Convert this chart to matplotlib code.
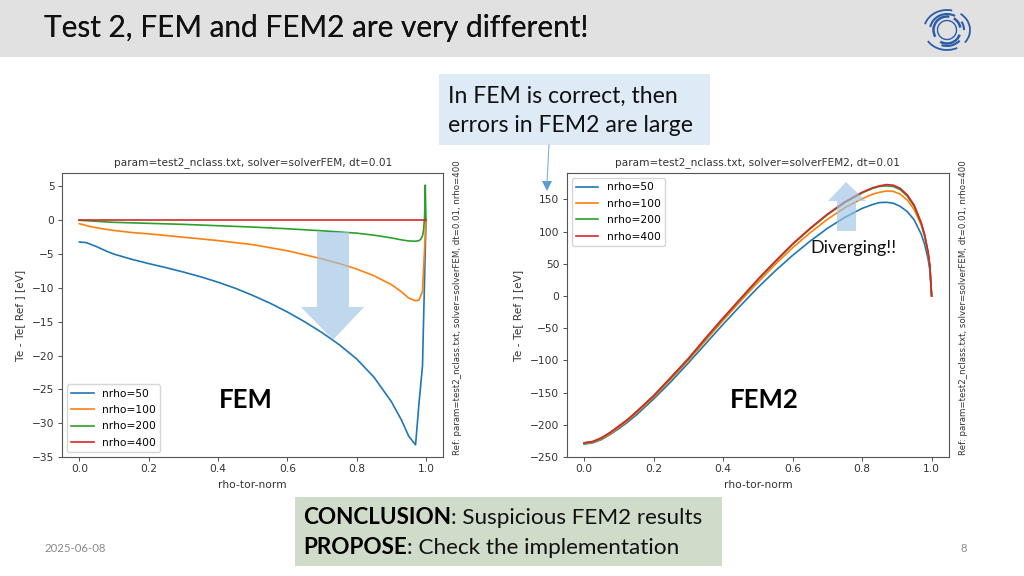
import matplotlib
matplotlib.use("Agg")
import matplotlib.pyplot as plt
from matplotlib.patches import Rectangle, Polygon, Arc

W, H = 1024, 576
UI = ['Lato', 'DejaVu Sans']

labels = ['nrho=50', 'nrho=100', 'nrho=200', 'nrho=400']
colors = ['#1f77b4', '#ff7f0e', '#2ca02c', '#d62728']

# left chart (solver FEM)
fem_x_blue = [0, .02, .05, .08, .1, .15, .2, .25, .3, .35, .4, .45, .5, .55, .6, .65, .7, .75, .8, .85, .9, .93, .95, .97, .98, .99, 1]
fem_blue = [-3.2, -3.3, -3.9, -4.6, -5.0, -5.75, -6.4, -7.0, -7.65, -8.35, -9.15, -10.05, -11.1, -12.25, -13.55, -15.0, -16.6, -18.4, -20.5, -23.2, -26.8, -29.6, -31.9, -33.2, -27, -21.5, 0]
fem_x_orange = [0, .03, .06, .1, .15, .2, .3, .4, .5, .6, .7, .75, .8, .85, .9, .93, .95, .97, .98, .99, 1]
fem_orange = [-0.5, -0.9, -1.2, -1.5, -1.8, -2.0, -2.5, -3.0, -3.6, -4.5, -5.7, -6.4, -7.2, -8.2, -9.5, -10.6, -11.5, -11.9, -11.8, -10.5, 0]
fem_x_green = [0, .1, .2, .3, .4, .5, .6, .7, .8, .85, .9, .93, .95, .97, .98, .985, .99, .993, .996, .998, 1]
fem_green = [0, -0.3, -0.45, -0.6, -0.8, -1.0, -1.25, -1.55, -1.9, -2.2, -2.6, -2.9, -3.05, -3.1, -3.0, -2.8, -2.3, -1.5, 0.5, 5.2, 0]
fem_x_red = [0, .5, 1]
fem_red = [0, 0, 0]

# right chart (solver FEM2)
fem2_x = [0, .025, .05, .075, .1, .125, .15, .2, .25, .3, .35, .4, .45, .5, .55, .6, .65, .7, .75, .8, .83, .85, .87, .89, .91, .93, .95, .97, .98, .99, .995, 1]
fem2_blue = [-230, -228, -223, -215, -206, -196, -185, -160, -133, -104, -74, -44, -15, 13, 39, 63, 85, 105, 122, 136, 142, 145, 145.5, 144, 139, 131, 118, 96, 80, 57, 40, 0]
fem2_orange = [-229, -227, -222, -214, -204, -194, -182, -157, -129, -100, -69, -38, -8, 21, 49, 75, 98, 119, 137, 151, 158, 161, 163, 162.5, 158, 149, 134, 110, 92, 65, 45, 0]
fem2_green = [-228, -226, -221, -212, -202, -192, -180, -155, -127, -98, -66, -35, -5, 25, 53, 80, 104, 126, 145, 160, 167, 170, 171, 170, 165, 155, 139, 113, 94, 67, 46, 0]
fem2_red = [-228, -226, -220, -212, -202, -192, -180, -155, -126, -97, -65, -34, -4, 26, 54, 81, 105, 127, 146, 161, 168, 171, 173, 172, 167, 157, 141, 114, 95, 68, 47, 0]

fem_yticks = [5, 0, -5, -10, -15, -20, -25, -30, -35]
fem2_yticks = [150, 100, 50, 0, -50, -100, -150, -200, -250]
xticks = [0.0, 0.2, 0.4, 0.6, 0.8, 1.0]

fig = plt.figure(figsize=(W / 100, H / 100), dpi=100, facecolor='white')
FS = 7.7
plt.rcParams['font.family'] = ['DejaVu Sans']


def px_axes(x0, y0, x1, y1, **kw):
    return fig.add_axes([x0 / W, 1 - y1 / H, (x1 - x0) / W, (y1 - y0) / H], **kw)


def chart(ax, series, title, ylim, yticks, legend_loc):
    for (x, y), c, l in zip(series, colors, labels):
        ax.plot(x, y, color=c, lw=1.2, label=l)
    ax.set_xlim(-0.05, 1.05)
    ax.set_ylim(*ylim)
    ax.set_xticks(xticks)
    ax.set_yticks(yticks)
    ax.tick_params(labelsize=FS, length=2.7, width=0.6, pad=2.7, colors='#333333')
    for s in ax.spines.values():
        s.set_linewidth(0.8)
        s.set_color('#555555')
    ax.set_title(title, fontsize=7.55, color='#333333', pad=6)
    ax.set_xlabel('rho-tor-norm', fontsize=FS, color='#333333', labelpad=4)
    ax.set_ylabel('Te - Te[ Ref ] [eV]', fontsize=FS, color='#333333', labelpad=5)
    ax.legend(loc=legend_loc, fontsize=FS, borderaxespad=0.45, handlelength=2.1, labelspacing=0.6)


ax1 = px_axes(62, 173.3, 443.3, 457)
chart(ax1, [(fem_x_blue, fem_blue), (fem_x_orange, fem_orange), (fem_x_green, fem_green), (fem_x_red, fem_red)],
      'param=test2_nclass.txt, solver=solverFEM, dt=0.01', (-35, 6.95), fem_yticks, 'lower left')
ax2 = px_axes(566.7, 173.3, 949, 457)
chart(ax2, [(fem2_x, fem2_blue), (fem2_x, fem2_orange), (fem2_x, fem2_green), (fem2_x, fem2_red)],
      'param=test2_nclass.txt, solver=solverFEM2, dt=0.01', (-250, 190.5), fem2_yticks, 'upper left')

# overlay in slide pixels
ov = fig.add_axes([0, 0, 1, 1], facecolor='none')
ov.set_xlim(0, W)
ov.set_ylim(H, 0)
ov.axis('off')

ov.add_patch(Rectangle((0, 0), W, 57, fc='#e1e1e1', ec='none'))
for dx in (0, 0.5):
    ov.text(44 + dx, 28, 'Test 2, FEM and FEM2 are very different!', fontsize=21.4, family=UI,
            color='#111111', va='center', ha='left')

# logo
lc = '#2a5ca8'
cx, cy = 947, 30
for (w, h, a, t1, t2, lw) in [
    (19, 19, 0, 0, 360, 1.0),
    (27, 27, 0, 20, 120, 1.8), (27, 27, 0, 150, 280, 1.8), (27, 27, 0, 300, 350, 1.8),
    (34, 32, 0, 190, 300, 1.5), (34, 32, 0, 330, 360, 1.5), (34, 32, 0, 40, 110, 1.5),
    (46, 40, 0, 195, 285, 1.3), (46, 40, 0, 310, 395, 1.3), (46, 40, 0, 60, 150, 1.3),
]:
    ov.add_patch(Arc((cx, cy), w, h, angle=a, theta1=t1, theta2=t2, color=lc, lw=lw))

# callout
ov.add_patch(Rectangle((439, 74), 271, 71, fc='#deebf7', ec='none'))
ov.text(448, 96, 'In FEM is correct, then', fontsize=16.6, family=UI, color='#111111', va='center')
ov.text(448, 126, 'errors in FEM2 are large', fontsize=16.6, family=UI, color='#111111', va='center')
ov.plot([549, 547], [145, 182], color='#7fb0dc', lw=0.8)
ov.add_patch(Polygon([(542, 181), (552, 181), (547, 191)], fc='#5b9bd5', ec='none'))

# big arrows
ov.add_patch(Polygon([(317, 232), (349, 232), (349, 307), (364, 307), (333, 340), (301, 307), (317, 307)],
                     fc='#9dc3e6', ec='none', alpha=0.65))
ov.add_patch(Polygon([(837, 231), (856, 231), (856, 201), (866, 201), (846, 182), (828, 201), (837, 201)],
                     fc='#9dc3e6', ec='none', alpha=0.65))

ov.text(246, 400, 'FEM', fontsize=18.5, family=UI, weight='bold', color='black', ha='center', va='center')
ov.text(764, 400, 'FEM2', fontsize=18.5, family=UI, weight='bold', color='black', ha='center', va='center')
ov.text(853.5, 248, 'Diverging!!', fontsize=13, family=UI, color='#111111', ha='center', va='center')

rt = dict(rotation=90, fontsize=6.2, color='#333333', ha='center', va='bottom')
ov.text(458, 455, 'Ref: param=test2_nclass.txt, solver=solverFEM, dt=0.01, nrho=400', **rt)
ov.text(964, 455, 'Ref: param=test2_nclass.txt, solver=solverFEM, dt=0.01, nrho=400', **rt)

# conclusion box
ov.add_patch(Rectangle((295, 497), 427, 69, fc='#cfdcc9', ec='none'))
rend = fig.canvas.get_renderer()
inv = ov.transData.inverted()


def mixed(x, y, bold, rest):
    t = ov.text(x, y, bold, fontsize=16.2, family=UI, weight='bold', color='black', va='center')
    end = inv.transform(t.get_window_extent(rend).get_points())[1][0]
    ov.text(end, y, rest, fontsize=16.2, family=UI, color='#111111', va='center')


mixed(303, 517.5, 'CONCLUSION', ': Suspicious FEM2 results')
mixed(303, 548, 'PROPOSE', ': Check the implementation')

ov.text(44, 549, '2025-06-08', fontsize=8.2, family=UI, color='#8a8a8a', va='center')
ov.text(967, 549, '8', fontsize=8.2, family=UI, color='#8a8a8a', va='center', ha='right')

fig.savefig('out.png', dpi=100)
